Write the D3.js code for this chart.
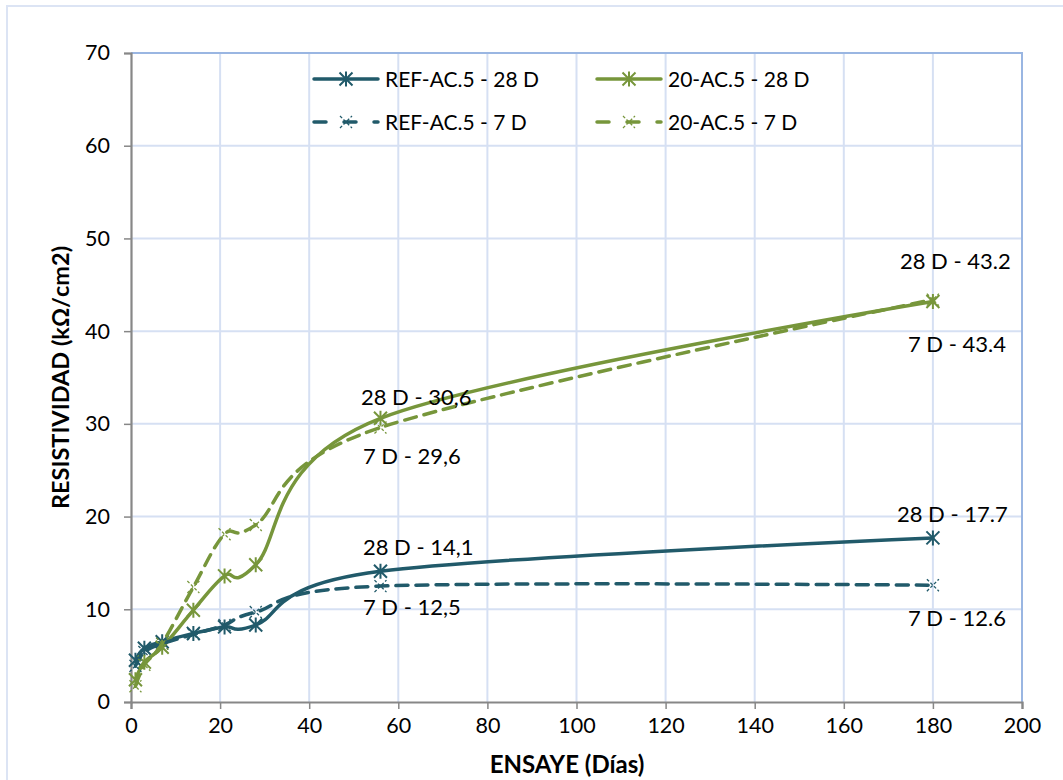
<!DOCTYPE html>
<html>
<head>
<meta charset="utf-8">
<script src="https://cdn.jsdelivr.net/npm/d3@7"></script>
<style>
  html, body { margin: 0; padding: 0; background: #ffffff; }
  svg { display: block; }
  text { font-family: Lato, "Open Sans", sans-serif; fill: #000; }
</style>
</head>
<body>
<svg id="chart" width="1063" height="780"></svg>
<script>
// Test ages (days)
const days = [1, 3, 7, 14, 21, 28, 56, 180];

// Resistivity (kΩ/cm2) per mix and curing age
const ref28 = [4.5, 5.8, 6.5, 7.4, 8.1, 8.3, 14.1, 17.7];
const ref7  = [3.9, 5.4, 6.3, 7.3, 8.3, 9.7, 12.5, 12.6];
const ac28  = [2.4, 4.3, 5.9, 9.9, 13.6, 14.8, 30.6, 43.2];
const ac7   = [1.7, 4.0, 6.3, 12.4, 18.1, 19.1, 29.6, 43.4];

const seriesNames = ["REF-AC.5 - 28 D", "20-AC.5 - 28 D", "REF-AC.5 - 7 D", "20-AC.5 - 7 D"];

const xTicks = [0, 20, 40, 60, 80, 100, 120, 140, 160, 180, 200];
const yTicks = [0, 10, 20, 30, 40, 50, 60, 70];

const xTitle = "ENSAYE (Días)";
const yTitle = "RESISTIVIDAD (kΩ/cm2)";

// Point annotations: series index, point index, text
const notes = [
  { s: 1, i: 7, text: "28 D - 43.2" },
  { s: 3, i: 7, text: "7 D - 43.4" },
  { s: 1, i: 6, text: "28 D - 30,6" },
  { s: 3, i: 6, text: "7 D - 29,6" },
  { s: 0, i: 6, text: "28 D - 14,1" },
  { s: 2, i: 6, text: "7 D - 12,5" },
  { s: 0, i: 7, text: "28 D - 17.7" },
  { s: 2, i: 7, text: "7 D - 12.6" }
];

const TEAL = "#215A6A";
const GREEN = "#77963B";

const series = [
  { name: seriesNames[0], values: ref28, color: TEAL,  dashed: false },
  { name: seriesNames[1], values: ac28,  color: GREEN, dashed: false },
  { name: seriesNames[2], values: ref7,  color: TEAL,  dashed: true },
  { name: seriesNames[3], values: ac7,   color: GREEN, dashed: true }
];

const svg = d3.select("#chart");
const W = 1063, H = 780;
const m = { left: 131, right: 1022, top: 53, bottom: 702 };

const x = d3.scaleLinear().domain([0, 200]).range([m.left, m.right]);
const y = d3.scaleLinear().domain([0, 70]).range([m.bottom, m.top]);

// outer chart frame
svg.append("rect")
  .attr("x", 7).attr("y", 6).attr("width", W + 20).attr("height", H + 20)
  .attr("fill", "#fff").attr("stroke", "#DCE4F4").attr("stroke-width", 2);

// gridlines
const grid = svg.append("g");
grid.selectAll(".gx").data(xTicks.slice(1)).join("line")
  .attr("x1", d => x(d)).attr("x2", d => x(d))
  .attr("y1", m.top).attr("y2", m.bottom)
  .attr("stroke", "#D6E0F3").attr("stroke-width", 2);
grid.selectAll(".gy").data(yTicks.slice(1)).join("line")
  .attr("x1", m.left).attr("x2", m.right)
  .attr("y1", d => y(d)).attr("y2", d => y(d))
  .attr("stroke", "#D6E0F3").attr("stroke-width", 2);

// plot frame, top and right edges
svg.append("path")
  .attr("d", `M${m.left},${m.top}H${m.right}V${m.bottom}`)
  .attr("fill", "none").attr("stroke", "#9AB6E2").attr("stroke-width", 2);

// axes
const xAxis = d3.axisBottom(x).tickValues(xTicks).tickSize(7).tickPadding(9);
const yAxis = d3.axisLeft(y).tickValues(yTicks).tickSize(7).tickPadding(14);

const gx = svg.append("g").attr("transform", `translate(0,${m.bottom})`).call(xAxis);
const gy = svg.append("g").attr("transform", `translate(${m.left},0)`).call(yAxis);
[gx, gy].forEach(g => {
  g.select(".domain").attr("stroke", "#878787").attr("stroke-width", 2.2);
  g.selectAll(".tick line").attr("stroke", "#878787").attr("stroke-width", 1.5);
  g.selectAll(".tick text").attr("font-family", "Lato, sans-serif")
    .attr("font-size", 21.5).attr("fill", "#000");
});

// axis titles
svg.append("text")
  .attr("x", 567).attr("y", 773)
  .attr("text-anchor", "middle").attr("font-size", 24).attr("font-weight", "bold")
  .text(xTitle);
svg.append("text")
  .attr("transform", `translate(69,${(m.top + m.bottom) / 2}) rotate(-90)`)
  .attr("text-anchor", "middle").attr("font-size", 23.5).attr("font-weight", "bold")
  .text(yTitle);

// series lines
const line = d3.line()
  .x((d, i) => x(days[i]))
  .y(d => y(d))
  .curve(d3.curveCardinal.tension(0));

const DASH = "12 8";

function starMarker(g, cx, cy, color) {
  const r = 6.5;
  g.append("path")
    .attr("d", `M${cx - r},${cy - r}L${cx + r},${cy + r}M${cx - r},${cy + r}L${cx + r},${cy - r}M${cx},${cy - r - 1}V${cy + r + 1}`)
    .attr("stroke", color).attr("stroke-width", 2).attr("fill", "none");
}
function xMarker(g, cx, cy, color) {
  const r = 6;
  g.append("path")
    .attr("d", `M${cx - r},${cy - r}L${cx + r},${cy + r}M${cx - r},${cy + r}L${cx + r},${cy - r}`)
    .attr("stroke", color).attr("stroke-width", 1.3).attr("stroke-dasharray", "3 2")
    .attr("fill", "none");
}

const plot = svg.append("g");
series.forEach(s => {
  plot.append("path")
    .datum(s.values)
    .attr("d", line)
    .attr("fill", "none")
    .attr("stroke", s.color)
    .attr("stroke-width", 3.5)
    .attr("stroke-linecap", "round")
    .attr("stroke-dasharray", s.dashed ? DASH : null);
  const mg = plot.append("g");
  s.values.forEach((v, i) => {
    if (s.dashed) xMarker(mg, x(days[i]), y(v), s.color);
    else starMarker(mg, x(days[i]), y(v), s.color);
  });
});

// legend
const legend = svg.append("g");
const legendPos = [
  { lx: 314, ly: 79 }, { lx: 597, ly: 79 },
  { lx: 314, ly: 122 }, { lx: 597, ly: 122 }
];
series.forEach((s, k) => {
  const p = legendPos[k];
  legend.append("line")
    .attr("x1", p.lx).attr("x2", p.lx + 64)
    .attr("y1", p.ly).attr("y2", p.ly)
    .attr("stroke", s.color).attr("stroke-width", 3.5)
    .attr("stroke-linecap", "round")
    .attr("stroke-dasharray", s.dashed ? "12 18" : null);
  if (s.dashed) xMarker(legend, p.lx + 32, p.ly, s.color);
  else starMarker(legend, p.lx + 32, p.ly, s.color);
  legend.append("text")
    .attr("x", p.lx + 71).attr("y", p.ly + 7.5)
    .attr("font-size", 21)
    .text(s.name);
});

// value annotations, placed relative to their point
const noteOffset = [
  { dx: -33, dy: -32 }, { dx: -25, dy: 52 },
  { dx: -19.5, dy: -13 }, { dx: -17.5, dy: 36 },
  { dx: -17.5, dy: -16 }, { dx: -17.5, dy: 29 },
  { dx: -36, dy: -16 }, { dx: -25, dy: 41 }
];
notes.forEach((n, k) => {
  const s = series[n.s];
  const o = noteOffset[k];
  svg.append("text")
    .attr("x", x(days[n.i]) + o.dx)
    .attr("y", y(s.values[n.i]) + o.dy)
    .attr("font-size", 22)
    .text(n.text);
});
</script>
</body>
</html>
